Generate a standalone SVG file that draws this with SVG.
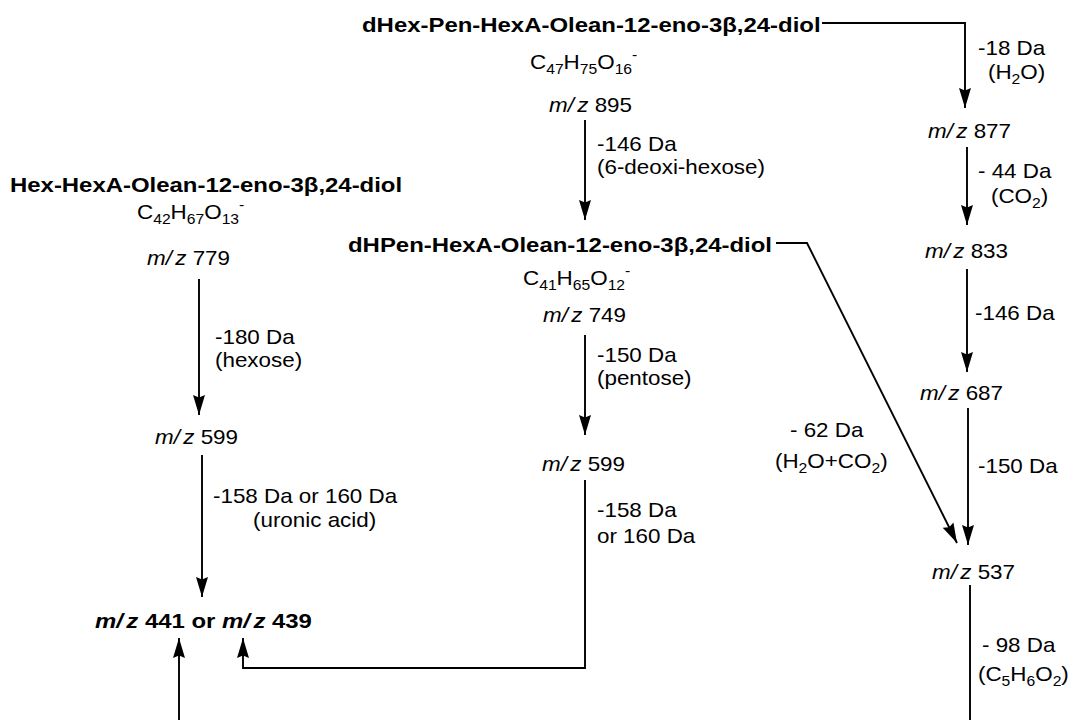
<svg xmlns="http://www.w3.org/2000/svg" width="1089" height="720" viewBox="0 0 1089 720">
<style>
text{font-family:"Liberation Sans",Arial,Helvetica,sans-serif;font-size:20px;fill:#000}
.b{font-weight:bold;font-size:21px}
.i{font-style:italic}
.s{font-size:14px}
.e{fill:none;stroke:#000;stroke-width:1.9}
.a{marker-end:url(#ah)}
</style>
<defs>
<marker id="ah" markerUnits="userSpaceOnUse" markerWidth="22" markerHeight="14" refX="20" refY="7" orient="auto"><path d="M0,1 L20,7 L0,13 L2.5,7 Z" fill="#000"/></marker>
</defs>
<rect width="1089" height="720" fill="#fff"/>

<g id="connectors">
<path class="e a" d="M822,23 H965 V108"/>
<path class="e a" d="M967,147 V225"/>
<path class="e a" d="M967,269 V372"/>
<path class="e a" d="M968,408 V545"/>
<path class="e" d="M970,585 V720"/>
<path class="e a" d="M776,243 H807 L957,543"/>
<path class="e a" d="M585,120 V220"/>
<path class="e a" d="M585,335 V435"/>
<path class="e a" d="M585,480 V668 H243 V638"/>
<path class="e a" d="M199,279 V415"/>
<path class="e a" d="M202,455 V597"/>
<path class="e a" d="M179,720 V638"/>
</g>

<g id="edge-labels">
<text transform="translate(978,55) scale(1.12,1)">-18 Da</text>
<text transform="translate(988,79) scale(1.12,1)">(H<tspan class="s" dy="5">2</tspan><tspan dy="-5">O)</tspan></text>
<text transform="translate(978,178) scale(1.12,1)">- 44 Da</text>
<text transform="translate(991,203) scale(1.12,1)">(CO<tspan class="s" dy="5">2</tspan><tspan dy="-5">)</tspan></text>
<text transform="translate(975,320) scale(1.12,1)">-146 Da</text>
<text transform="translate(978,473) scale(1.12,1)">-150 Da</text>
<text transform="translate(982,652) scale(1.12,1)">- 98 Da</text>
<text transform="translate(978,681) scale(1.12,1)">(C<tspan class="s" dy="5">5</tspan><tspan dy="-5">H</tspan><tspan class="s" dy="5">6</tspan><tspan dy="-5">O</tspan><tspan class="s" dy="5">2</tspan><tspan dy="-5">)</tspan></text>
<text transform="translate(790,437) scale(1.12,1)">- 62 Da</text>
<text transform="translate(775,468) scale(1.12,1)">(H<tspan class="s" dy="5">2</tspan><tspan dy="-5">O+CO</tspan><tspan class="s" dy="5">2</tspan><tspan dy="-5">)</tspan></text>
<text transform="translate(597,151) scale(1.12,1)">-146 Da</text>
<text transform="translate(597,174) scale(1.12,1)">(6-deoxi-hexose)</text>
<text transform="translate(597,362) scale(1.12,1)">-150 Da</text>
<text transform="translate(597,385) scale(1.12,1)">(pentose)</text>
<text transform="translate(597,517) scale(1.12,1)">-158 Da</text>
<text transform="translate(597,543) scale(1.12,1)">or 160 Da</text>
<text transform="translate(215,344) scale(1.12,1)">-180 Da</text>
<text transform="translate(215,367) scale(1.12,1)">(hexose)</text>
<text transform="translate(213,503) scale(1.12,1)">-158 Da or 160 Da</text>
<text transform="translate(253,527) scale(1.12,1)">(uronic acid)</text>
</g>

<g id="n895">
<text class="b" transform="translate(362,32) scale(1.14,1)">dHex-Pen-HexA-Olean-12-eno-3β,24-diol</text>
<text transform="translate(530,69) scale(1.12,1)">C<tspan class="s" dy="5">47</tspan><tspan dy="-5">H</tspan><tspan class="s" dy="5">75</tspan><tspan dy="-5">O</tspan><tspan class="s" dy="5">16</tspan><tspan class="s" dy="-14">-</tspan></text>
<text transform="translate(549,112) scale(1.12,1)"><tspan class="i">m/<tspan dx="3">z</tspan></tspan> 895</text>
</g>

<g id="n877">
<text transform="translate(928,138) scale(1.12,1)"><tspan class="i">m/<tspan dx="3">z</tspan></tspan> 877</text>
</g>

<g id="n833">
<text transform="translate(925,258) scale(1.12,1)"><tspan class="i">m/<tspan dx="3">z</tspan></tspan> 833</text>
</g>

<g id="n687">
<text transform="translate(920,400) scale(1.12,1)"><tspan class="i">m/<tspan dx="3">z</tspan></tspan> 687</text>
</g>

<g id="n537">
<text transform="translate(932,579) scale(1.12,1)"><tspan class="i">m/<tspan dx="3">z</tspan></tspan> 537</text>
</g>

<g id="n749">
<text class="b" transform="translate(348,252) scale(1.14,1)">dHPen-HexA-Olean-12-eno-3β,24-diol</text>
<text transform="translate(523,285) scale(1.12,1)">C<tspan class="s" dy="5">41</tspan><tspan dy="-5">H</tspan><tspan class="s" dy="5">65</tspan><tspan dy="-5">O</tspan><tspan class="s" dy="5">12</tspan><tspan class="s" dy="-14">-</tspan></text>
<text transform="translate(543,322) scale(1.12,1)"><tspan class="i">m/<tspan dx="3">z</tspan></tspan> 749</text>
</g>

<g id="n599b">
<text transform="translate(542,471) scale(1.12,1)"><tspan class="i">m/<tspan dx="3">z</tspan></tspan> 599</text>
</g>

<g id="n779">
<text class="b" transform="translate(10,192) scale(1.14,1)">Hex-HexA-Olean-12-eno-3β,24-diol</text>
<text transform="translate(137,219) scale(1.12,1)">C<tspan class="s" dy="5">42</tspan><tspan dy="-5">H</tspan><tspan class="s" dy="5">67</tspan><tspan dy="-5">O</tspan><tspan class="s" dy="5">13</tspan><tspan class="s" dy="-14">-</tspan></text>
<text transform="translate(147,265) scale(1.12,1)"><tspan class="i">m/<tspan dx="3">z</tspan></tspan> 779</text>
</g>

<g id="n599a">
<text transform="translate(155,444) scale(1.12,1)"><tspan class="i">m/<tspan dx="3">z</tspan></tspan> 599</text>
</g>

<g id="n441">
<text class="b" transform="translate(95,628) scale(1.14,1)"><tspan class="i">m/<tspan dx="3">z</tspan></tspan> 441 or <tspan class="i">m/<tspan dx="3">z</tspan></tspan> 439</text>
</g>
</svg>
